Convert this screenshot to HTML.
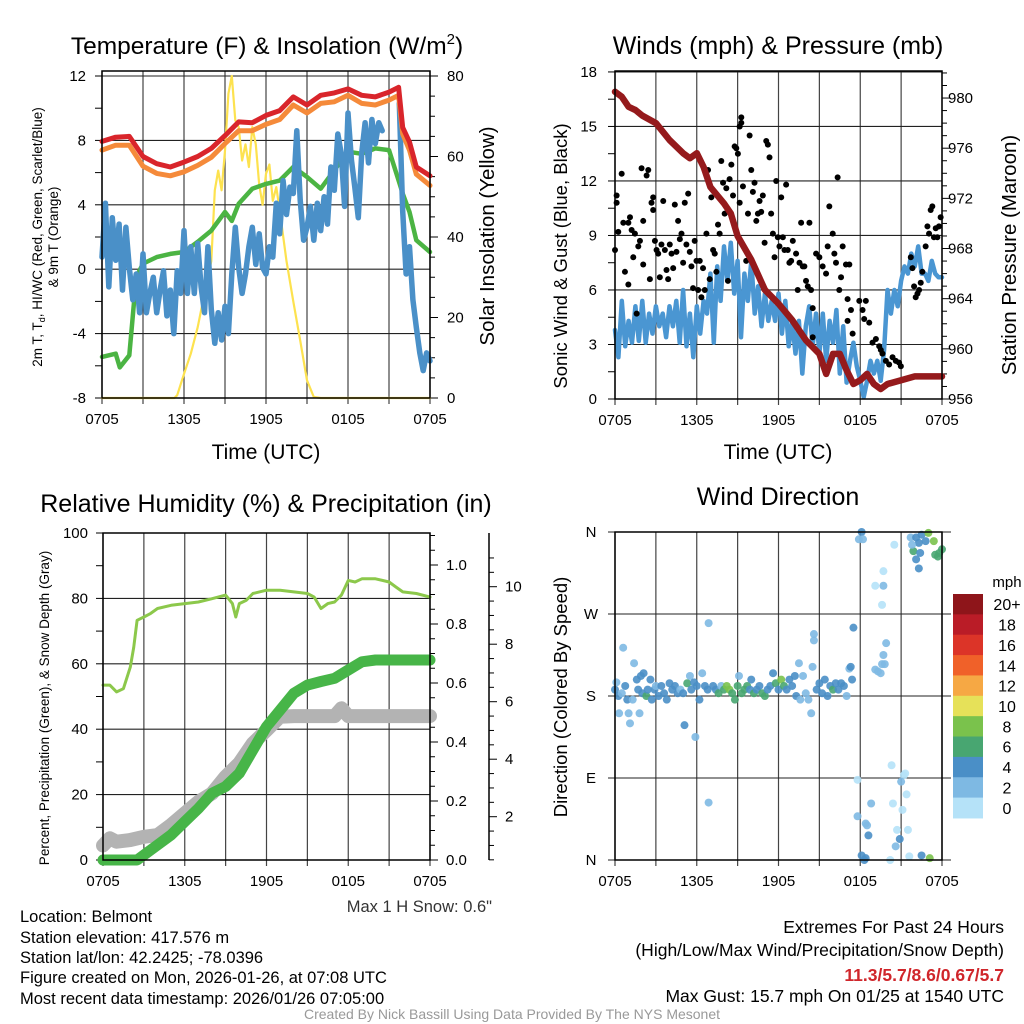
<!DOCTYPE html>
<html><head><meta charset="utf-8">
<style>
html,body{margin:0;padding:0;background:#fff;}
svg{display:block;font-family:"Liberation Sans",sans-serif;}
</style></head>
<body>
<svg id="fig" width="1024" height="1024" viewBox="0 0 1024 1024" xmlns="http://www.w3.org/2000/svg">
<rect x="0" y="0" width="1024" height="1024" fill="#fff"/>
<g id="g1"></g>
<g id="g2"></g>
<g id="g3"></g>
<g id="g4"></g>
<g id="gt">
<text x="267" y="54" font-size="24.5" text-anchor="middle">Temperature (F) &amp; Insolation (W/m<tspan font-size="15" dy="-10">2</tspan><tspan dy="10">)</tspan></text>
<text x="778" y="54" font-size="25" text-anchor="middle">Winds (mph) &amp; Pressure (mb)</text>
<text x="266" y="512" font-size="25" text-anchor="middle">Relative Humidity (%) &amp; Precipitation (in)</text>
<text x="778" y="505" font-size="25" text-anchor="middle">Wind Direction</text>
<text x="266" y="459" font-size="21" text-anchor="middle">Time (UTC)</text>
<text x="778" y="459" font-size="21" text-anchor="middle">Time (UTC)</text>
<text transform="translate(42,237) rotate(-90)" font-size="13.5" text-anchor="middle">2m T, T<tspan font-size="9" dy="3">d</tspan><tspan dy="-3">, HI/WC (Red, Green, Scarlet/Blue)</tspan></text>
<text transform="translate(58,237) rotate(-90)" font-size="13.5" text-anchor="middle">&amp; 9m T (Orange)</text>
<text transform="translate(494,236) rotate(-90)" font-size="20.5" text-anchor="middle">Solar Insolation (Yellow)</text>
<text transform="translate(567,256) rotate(-90)" font-size="18.5" text-anchor="middle">Sonic Wind &amp; Gust (Blue, Black)</text>
<text transform="translate(1016,255) rotate(-90)" font-size="20.5" text-anchor="middle">Station Pressure (Maroon)</text>
<text transform="translate(49,708) rotate(-90)" font-size="13.5" text-anchor="middle">Percent, Precipitation (Green), &amp; Snow Depth (Gray)</text>
<text transform="translate(567,697) rotate(-90)" font-size="18.5" text-anchor="middle">Direction (Colored By Speed)</text>
<text x="492" y="912" font-size="16.5" text-anchor="end" fill="#333">Max 1 H Snow: 0.6"</text>
<g font-size="16.5">
<text x="20" y="922">Location: Belmont</text>
<text x="20" y="943">Station elevation: 417.576 m</text>
<text x="20" y="963">Station lat/lon: 42.2425; -78.0396</text>
<text x="20" y="983">Figure created on Mon, 2026-01-26, at 07:08 UTC</text>
<text x="20" y="1004">Most recent data timestamp: 2026/01/26 07:05:00</text>
</g>
<g font-size="17.5" text-anchor="end">
<text x="1004" y="933">Extremes For Past 24 Hours</text>
<text x="1004" y="956">(High/Low/Max Wind/Precipitation/Snow Depth)</text>
<text x="1004" y="981" fill="#d0262b" font-weight="bold">11.3/5.7/8.6/0.67/5.7</text>
<text x="1004" y="1002">Max Gust: 15.7 mph On 01/25 at 1540 UTC</text>
</g>
<text x="512" y="1019" font-size="14" text-anchor="middle" fill="#999">Created By Nick Bassill Using Data Provided By The NYS Mesonet</text>
</g>
</svg>
<script>
// ---------- DATA ----------
const hoursQ = [];
const tempHours = [0,1,2,3,4,5,6,7,8,9,10,11,12,13,14,15,16,17,18,19,20,21,21.7,22,22.5,23,24];
const redT = [7.94,8.2,8.25,7.0,6.55,6.35,6.65,7.0,7.5,8.3,9.15,9.1,9.55,9.85,10.7,10.2,10.8,10.95,11.2,10.8,10.7,11.0,11.3,8.8,7.9,6.35,5.8];
const orangeT = [7.4,7.7,7.7,6.4,5.95,5.8,6.05,6.45,6.95,7.8,8.6,8.6,9.0,9.3,10.2,9.7,10.3,10.4,10.8,10.3,10.2,10.5,10.8,8.4,7.4,5.9,5.2];
const greenHours = [0,1,1.3,2,2.2,2.5,3,4,5,6,7,8,9,9.5,10,11,12,13,14,15,16,17,18,19,20,21,22,22.5,23,24];
const greenT = [-5.45,-5.25,-6.1,-5.35,-3.4,-0.5,0.35,0.75,0.95,1.07,1.7,2.4,3.55,3.0,4.07,5.0,5.3,5.5,6.35,5.73,5.0,6.15,7.3,7.17,7.5,7.4,4.7,3.55,1.8,1.07];
const solHours = [0,5.3,5.5,6,6.5,7,7.5,8,8.25,8.5,8.75,9,9.25,9.5,9.75,10,10.25,10.5,10.75,11,11.25,11.5,11.75,12,12.25,12.5,12.75,13,13.5,14,14.5,15,15.5,16,24];
const solar = [0,0,0.7,6,11,17.6,26,34,51.6,56.5,51.6,61.5,75.6,80,69,67.3,59,63,57.4,67.3,63,53,48,55.7,58,49,52.4,46.6,34,24,14.3,4.4,0.25,0,0];
const blueT = [0.75,4.1,-1.1,3.2,0.55,2.8,-1.3,2.6,0.1,-1.9,-0.3,-2.7,0.95,-2.7,-1.5,-0.5,-2.7,-1.3,-0.1,-2.9,-1.3,-4.0,-0.1,-1.5,2.4,-1.5,1.4,-1.5,1.6,-1.1,-2.7,1.4,-2.5,-4.6,-2.7,-4.4,-2.3,-4.0,-0.3,2.6,0.1,-1.5,-0.3,1.4,2.6,0.3,2.2,0.1,-0.3,1.4,0.75,4.1,2.2,5.5,3.4,5.1,4.7,8.6,4.3,1.8,2.6,3.9,1.8,4.1,2.4,4.5,2.8,6.35,4.9,8.4,7.2,3.9,9.7,6.8,5.1,3.2,7.2,9.1,6.6,9.3,7.8,9.1,8.6,null,null,null,null,10.3,3.6,-0.3,1.4,-1.9,-3.6,-5.2,-6.3,-5.2,-5.7];
const pressHours = [0,0.5,1,1.5,2,3,4,5,5.5,6,6.5,7,8,8.5,9,10,11,12,13,14,15,15.5,16,16.5,17,17.5,18,18.5,19,19.5,20,21,22,23,24];
const pressure = [980.5,980.1,979.3,979.05,978.6,978,976.65,975.6,975.2,975.6,974.5,972.9,971.6,970.8,969,967.1,964.7,963.6,962.3,960.7,959.6,958.0,959.6,959.6,958.3,957.2,957.5,958,957.2,956.8,957.2,957.5,957.8,957.8,957.8];
const sonic = [3.8,2.3,5.4,2.9,4.3,3.1,5.1,3.2,5.4,3.1,4.7,3.6,5.1,4.0,4.7,3.4,5.1,4.0,5.4,3.1,6.0,2.9,4.7,2.3,5.1,3.6,5.4,4.7,6.9,3.1,7.3,5.4,8.4,6.5,8.6,5.8,7.6,3.4,6.9,5.4,7.6,4.7,6.2,4.0,5.8,4.3,5.4,4.3,5.8,3.6,5.4,2.9,4.3,2.5,4.3,1.4,4.0,5.1,2.9,4.7,2.5,4.7,2.1,4.3,3.1,4.9,1.4,4.0,0.9,2.1,3.1,1.8,1.0,0.1,1.0,2.1,1.4,2.1,1.0,2.7,6.0,4.7,6.0,5.1,6.5,7.3,6.9,8.0,7.3,8.4,6.9,6.9,6.5,7.6,6.9,6.7,6.7];
const gustHours = [0,.12,.12,.24,.49,.61,.73,.98,.98,1.1,1.22,1.34,1.46,1.59,1.71,1.83,1.95,2.07,2.07,2.32,2.44,2.56,2.68,2.8,2.8,2.93,3.05,3.17,3.29,3.41,3.54,3.66,3.78,3.9,4.02,4.15,4.27,4.39,4.51,4.63,4.76,4.88,5.0,5.12,5.24,5.37,5.49,5.61,5.73,5.85,5.98,6.1,6.22,6.34,6.46,6.59,6.71,6.83,6.95,7.07,7.2,7.32,7.44,7.56,7.68,7.8,7.93,8.05,8.17,8.29,8.41,8.54,8.66,8.78,8.9,9.02,9.15,9.15,9.27,9.27,9.39,9.63,9.76,9.88,10.0,10.12,10.24,10.37,10.49,10.61,10.73,10.85,10.98,11.1,11.22,11.34,11.46,11.59,11.71,11.83,11.95,12.07,12.2,12.32,12.44,12.56,12.68,12.8,12.93,13.05,13.29,13.41,13.54,13.66,13.78,13.9,14.02,14.15,14.27,14.39,14.51,14.51,14.76,15.0,15.24,15.49,15.61,15.73,15.98,16.1,16.22,16.34,16.46,16.59,16.71,16.95,17.07,17.07,17.2,17.32,17.44,17.93,18.17,18.29,18.41,18.66,18.9,19.15,19.39,19.51,19.63,19.88,20.12,20.37,20.61,20.85,20.98,21.71,21.83,21.95,22.07,22.2,22.32,22.44,22.56,22.8,22.93,23.05,23.17,23.29,23.41,23.54,23.66,23.78,23.9];
const gustMph = [8.2,10.8,11.2,9.2,12.4,9.7,7.0,6.3,9.7,10.0,9.3,7.8,9.1,4.7,8.4,8.7,12.7,9.8,7.4,12.3,12.6,6.6,10.8,11.1,10.4,8.7,8.2,8.0,6.7,8.5,10.9,8.2,7.1,6.6,8.5,8.0,7.2,10.7,8.1,9.8,8.8,9.1,7.5,10.8,8.5,11.3,8.1,7.3,6.1,8.7,7.6,6.0,7.6,5.6,7.2,6.0,9.1,12.6,6.6,11.1,8.2,8.0,7.0,9.6,9.1,13.1,11.9,10.2,11.6,6.5,12.1,12.9,11.2,13.9,13.8,13.5,10.8,15.0,15.5,15.2,11.7,7.6,10.2,14.5,12.6,11.4,11.9,9.8,10.2,10.9,10.3,11.2,8.6,14.2,14.0,13.3,10.2,9.1,7.8,12.0,8.9,8.4,11.1,8.9,8.2,11.8,8.2,7.5,7.6,8.7,8.0,6.0,7.5,9.7,7.3,7.3,6.5,6.2,9.7,6.0,5.0,3.4,8.0,7.8,7.3,6.9,8.4,10.6,9.1,8.0,7.5,12.2,6.0,6.7,8.4,7.4,5.5,4.3,7.4,4.9,3.6,5.4,4.9,4.4,5.4,4.2,3.1,3.3,2.9,2.7,2.5,2.1,1.9,2.3,2.1,2.0,1.8,7.8,7.2,6.2,5.6,5.8,6.0,6.4,7.0,8.4,9.5,9.1,10.4,10.6,8.9,9.4,8.9,9.5,10.0];
const rhHours = [0,0.5,1,1.5,2,2.25,2.5,3,3.5,4,5,6,7,8,9,9.5,9.75,10,10.5,11,12,13,14,15,15.5,16,16.5,17,17.5,18,18.5,19,20,21,21.5,22,23,24];
const rh = [53.5,53.5,51.4,52.4,59,65,73.3,74.3,75.4,76.9,77.9,78.4,78.9,79.9,81,78.4,74.3,78.4,79.4,81.5,82.5,82.5,82,81.5,80.4,76.9,78.4,78.9,81,85.5,85,86,86,85,83.5,82,81.5,80.4];
const precipHours = [0,1,2,2.5,3,4,5,6,7,8,9,10,11,12,13,14,15,16,17,18,19,20,21,22,23,24];
const precip = [0,0,0,0,0.017,0.051,0.085,0.13,0.175,0.226,0.249,0.294,0.373,0.452,0.508,0.565,0.593,0.605,0.616,0.644,0.672,0.678,0.678,0.678,0.678,0.678];
const snowHours = [0,0.5,1,2,3,4,5,6,7,8,9,10,11,12,13,14,15,16,17,17.5,18,19,20,21,22,23,24];
const snowDepth = [1.0,1.25,1.13,1.19,1.3,1.36,1.71,2.12,2.52,2.81,3.39,3.86,4.55,5.01,5.48,5.5,5.5,5.5,5.5,5.77,5.5,5.5,5.5,5.5,5.5,5.5,5.5];
const dirHours = [0,0.1,0.25,0.3,0.5,0.6,0.75,0.9,1,1.1,1.3,1.4,1.6,1.7,1.8,1.9,2.0,2.1,2.3,2.4,2.6,2.7,2.9,3.0,3.2,3.4,3.6,3.8,4.0,4.2,4.4,4.6,4.8,5.0,5.1,5.3,5.5,5.6,5.8,5.9,6.0,6.2,6.4,6.6,6.8,6.87,6.87,7.2,7.4,7.6,7.8,8.0,8.2,8.4,8.6,8.8,9.0,9.1,9.3,9.5,9.7,9.9,10.0,10.2,10.4,10.6,10.8,11.0,11.2,11.4,11.6,11.8,12.0,12.2,12.4,12.6,12.8,13.0,13.2,13.3,13.5,13.6,13.8,14.0,14.2,14.4,14.5,14.6,14.6,14.8,15.0,15.2,15.4,15.6,15.8,16.0,16.2,16.4,16.6,16.8,17.0,17.2,17.3,17.4,17.5,18.1,17.9,18.2,18.3,18.4,18.1,17.8,17.8,18.4,18.5,18.8,18.6,19.1,19.7,19.7,19.6,19.9,19.7,19.6,19.5,19.3,19.1,19.8,20.5,20.2,20.3,20.4,20.7,20.6,20.9,21.1,21.2,21.3,21.0,21.4,21.5,21.6,22.5,23.1,21.7,22.1,22.3,22.5,22.8,23.0,23.4,21.9,22.1,22.3,22.4,23.5,23.8,24.0,23.7,21.8];
const dirDeg = [187,195,180,161,183,233,191,176,161,150,176,216,198,187,161,202,183,205,180,187,198,176,187,191,180,191,183,176,194,187,191,183,187,183,148,194,202,187,195,135,191,176,205,191,187,63,260,191,187,183,191,187,191,187,183,176,191,202,183,187,191,187,198,183,187,191,183,180,187,191,205,194,187,198,191,187,198,191,202,180,216,176,202,183,176,161,212,241,248,187,194,183,198,180,191,187,194,187,194,191,180,210,212,198,255,360,352,352,0,2,5,88,48,40,38,62,27,301,301,317,280,238,225,215,205,207,209,215,346,0,104,62,33,15,23,55,93,95,86,72,33,4,5,2,354,354,348,357,350,359,350,339,330,320,337,335,337,341,333,346];
const dirSpeed = [4,3,4,2,3,2,4,4,2,2,3,2,4,4,2,4,4,4,6,4,4,4,4,3,4,4,4,4,4,4,4,4,3,4,4,6,3,4,4,3,4,4,3,4,4,2,2,4,4,6,3,6,8,8,6,6,6,2,6,6,6,4,4,6,4,4,6,6,4,4,4,6,4,8,6,4,4,4,4,4,3,2,3,2,2,2,2,2,2,4,4,4,4,4,4,6,4,4,4,4,2,2,4,4,4,4,2,2,4,4,4,1,2,2,3,2,4,1,2,1,1,3,2,2,2,2,2,2,1,1,1,1,1,2,4,1,1,1,2,1,1,1,4,8,2,4,4,4,4,8,8,6,4,4,4,6,6,6,6,2];
const speedLabels = ["0","2","4","6","8","10","12","14","16","18","20+"];
const speedColors = ["#b5e2f8","#7eb9e3","#4a8fc7","#48a671","#7ac24c","#e6e159","#f6a844","#f06129","#dc3428","#ba1c27","#8e151a"];

// ---------- HELPERS ----------
const NS="http://www.w3.org/2000/svg";
function mk(parent,tag,attrs){const e=document.createElementNS(NS,tag);for(const k in attrs)e.setAttribute(k,attrs[k]);parent.appendChild(e);return e;}
function pathFrom(xs,ys,fx,fy){let d="",pen=false;for(let i=0;i<xs.length;i++){if(ys[i]===null){pen=false;continue;}d+=(pen?"L":"M")+fx(xs[i]).toFixed(1)+","+fy(ys[i]).toFixed(1);pen=true;}return d;}
for(let i=0;i<=96;i++)hoursQ.push(i/4);
const xLabels=["0705","1305","1905","0105","0705"];

function frame(g,x0,x1,y0,y1){
  for(let h=0;h<=24;h+=3){const x=x0+h*(x1-x0)/24;
    const l=mk(g,"line",{x1:x,x2:x,y1:y0,y2:y1+6,stroke:"#444","stroke-width":1.2});
    }
  for(let i=0;i<5;i++){const x=x0+i*6*(x1-x0)/24;
    const t=mk(g,"text",{x:x,y:y1+26,"font-size":15,"text-anchor":"middle"});t.textContent=xLabels[i];
    }
}
function border(g,x0,x1,y0,y1){const r=mk(g,"rect",{x:x0,y:y0,width:x1-x0,height:y1-y0,fill:"none",stroke:"#000","stroke-width":1.5});
  }
function hgrid(g,x0,x1,y){const l=mk(g,"line",{x1:x0,x2:x1,y1:y,y2:y,stroke:"#222","stroke-width":1.1});
  }
function tick(g,x,y,len){mk(g,"line",{x1:x,x2:x+len,y1:y,y2:y,stroke:"#000","stroke-width":1});}
function label(g,x,y,s,anchor,name){const t=mk(g,"text",{x:x,y:y+5,"font-size":15,"text-anchor":anchor});t.textContent=s;
  return t;}
function line(g,xs,ys,fx,fy,color,w,name){const p=mk(g,"path",{d:pathFrom(xs,ys,fx,fy),fill:"none",stroke:color,"stroke-width":w,"stroke-linecap":"round","stroke-linejoin":"round"});
  return p;}

// ---------- PANEL 1 ----------
(function(){
 const g=document.getElementById("g1");const x0=102,x1=430,y0=71,y1=398;
 const X=h=>x0+h*(x1-x0)/24, YT=v=>398-(v+8)*16.1, YS=v=>398-v*4.025;
 frame(g,x0,x1,y0,y1);
 for(let v=-8;v<=12;v+=2){const y=YT(v);tick(g,x0,y,-7);if(v%4===0){hgrid(g,x0,x1,y);label(g,86,y,String(v),"end","y-tick-label");}}
 for(let v=0;v<=80;v+=5){const y=YS(v);tick(g,x1,y,v%20===0?8:5);if(v%20===0)label(g,447,y,String(v),"start","y2-tick-label");}
 line(g,solHours,solar,X,YS,"#fde24f",2.2,"solar-insolation-line");
 line(g,greenHours,greenT,X,YT,"#4bb443",4.5,"dewpoint-line");
 line(g,hoursQ,blueT,X,YT,"#4a90c8",5.5,"heat-index-windchill-line");
 line(g,tempHours,orangeT,X,YT,"#f58a3a",5,"temp-9m-line");
 line(g,tempHours,redT,X,YT,"#d9252b",5,"temp-2m-line");
 border(g,x0,x1,y0,y1);
})();

// ---------- PANEL 2 ----------
(function(){
 const g=document.getElementById("g2");const x0=615,x1=942,y0=71,y1=399;
 const X=h=>x0+h*(x1-x0)/24, YW=v=>399-v*18.17, YP=p=>399-(p-956)*12.54;
 frame(g,x0,x1,y0,y1);
 for(let v=0;v<=18;v+=1.5){const y=YW(v);tick(g,x0,y,-7);if(v%3===0){hgrid(g,x0,x1,y);label(g,597,y,String(v),"end","y-tick-label");}}
 for(let p=956;p<=982;p+=1){const y=YP(p);if(y<y0)continue;tick(g,x1,y,p%4===0?8:5);if(p%4===0)label(g,948,y,String(p),"start","y2-tick-label");}
 line(g,hoursQ,sonic,X,YW,"#4a96d2",4.5,"sonic-wind-line");
 for(let i=0;i<gustHours.length;i++){const c=mk(g,"circle",{cx:X(gustHours[i]),cy:YW(gustMph[i]),r:3,fill:"#000"});
   }
 line(g,pressHours,pressure,X,YP,"#951a1c",6.5,"pressure-line");
 border(g,x0,x1,y0,y1);
})();

// ---------- PANEL 3 ----------
(function(){
 const g=document.getElementById("g3");const x0=103,x1=430,y0=533,y1=860;
 const X=h=>x0+h*(x1-x0)/24, YR=v=>860-v*3.27, YPr=v=>860-v*295, YSn=v=>874.2-v*28.75;
 frame(g,x0,x1,y0,y1);
 for(let v=0;v<=100;v+=10){const y=YR(v);tick(g,x0,y,-7);if(v%20===0){if(v>0&&v<100)hgrid(g,x0,x1,y);label(g,88,y,String(v),"end","y-tick-label");}}
 for(let i=0;i<=22;i++){const v=i*0.05;const y=YPr(v);tick(g,x1,y,i%4===0?8:5);if(i%4===0&&i<=20)label(g,446,y,v.toFixed(1),"start","precip-tick-label");}
 const a=mk(g,"line",{x1:489,x2:489,y1:533,y2:860,stroke:"#000","stroke-width":1.5});
 
 for(let v=0.5;v<=11;v+=0.5){const y=YSn(v);if(y<533)continue;tick(g,489,y,v%2===0?8:5);if(v%2===0)label(g,505,y,String(v),"start","snow-tick-label");}
 line(g,snowHours,snowDepth,X,YSn,"#b3b3b3",14,"snow-depth-line");
 line(g,precipHours,precip,X,YPr,"#47b548",11,"precipitation-line");
 line(g,rhHours,rh,X,YR,"#8cc84b",3,"relative-humidity-line");
 border(g,x0,x1,y0,y1);
})();

// ---------- PANEL 4 ----------
(function(){
 const g=document.getElementById("g4");const x0=615,x1=942,y0=532,y1=860;
 const X=h=>x0+h*(x1-x0)/24, YD=d=>860-d*(328/360);
 frame(g,x0,x1,y0,y1);
 const dl=["N","E","S","W","N"];
 for(let i=0;i<5;i++){const y=YD(i*90);hgrid(g,x0-7,x1+9,y);label(g,591,y,dl[i],"middle","direction-tick-label");}
 for(let i=0;i<dirHours.length;i++){const b=Math.min(10,Math.floor(dirSpeed[i]/2));
   const c=mk(g,"circle",{cx:X(dirHours[i]),cy:YD(dirDeg[i]),r:4,fill:speedColors[b],"fill-opacity":0.9});
   }
 border(g,x0,x1,y0,y1);
 const cb=mk(g,"g",{});
 const top=594,bh=20.36;
 for(let i=0;i<11;i++){const idx=10-i;const y=top+i*bh;
   const r=mk(cb,"rect",{x:953,y:y,width:30,height:bh+0.5,fill:speedColors[idx]});
   
   const t=mk(cb,"text",{x:1007,y:y+bh/2+6,"font-size":16,"text-anchor":"middle"});t.textContent=speedLabels[idx];
   }
 const u=mk(cb,"text",{x:1007,y:587,"font-size":15,"text-anchor":"middle"});u.textContent="mph";
 
})();
</script>
</body></html>
